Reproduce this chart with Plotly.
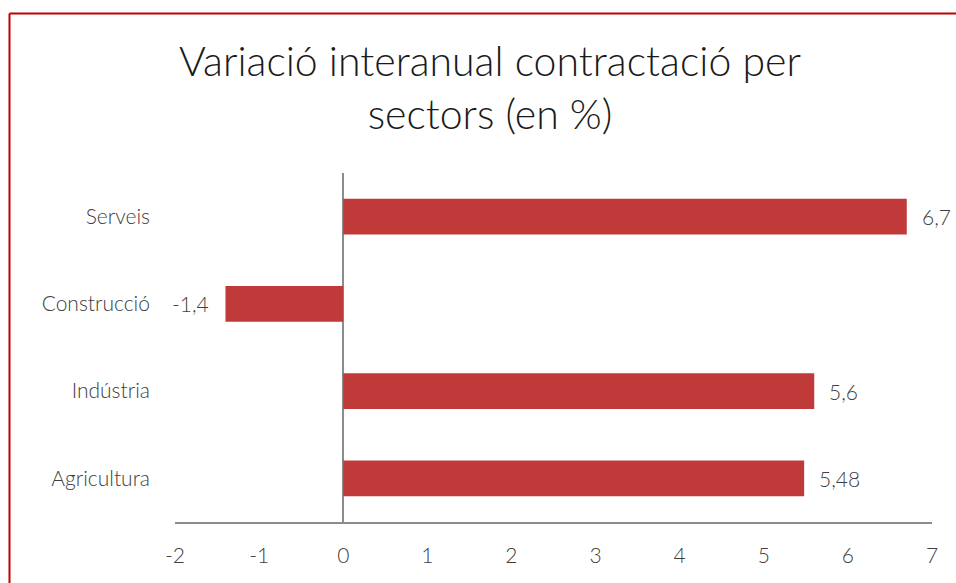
import plotly.graph_objects as go

sectors = ["Agricultura", "Indústria", "Construcció", "Serveis"]
values = [5.48, 5.6, -1.4, 6.7]
x_ticks = [-2, -1, 0, 1, 2, 3, 4, 5, 6, 7]

def fmt(v):
    return f"{v:g}".replace(".", ",")

FONT = "Lato"
TXT = "#404040"

fig = go.Figure()
fig.add_trace(go.Bar(
    x=values, y=sectors, orientation="h",
    marker=dict(color="#c03a3a", line=dict(width=0)),
    hoverinfo="skip",
))

for s, v in zip(sectors, values):
    fig.add_annotation(
        x=v, y=s, text=fmt(v), showarrow=False,
        xanchor="left" if v >= 0 else "right",
        xshift=13 if v >= 0 else -14,
        font=dict(family=FONT, size=21, color=TXT, weight=300),
    )

W, H = 956, 583
L, R, T, B = 175, 24, 173, 61
pw, ph = W - L - R, H - T - B

def px2x(px):
    return (px - L) / pw

def py2y(py):
    return (H - B - py) / ph

frame = dict(color="#c00000", width=2)
fig.add_shape(type="line", xref="paper", yref="paper",
              x0=px2x(9.5), x1=px2x(9.5), y0=py2y(13.5), y1=py2y(700), line=frame)
fig.add_shape(type="line", xref="paper", yref="paper",
              x0=px2x(9.5), x1=px2x(1200), y0=py2y(13.5), y1=py2y(13.5), line=frame)

fig.update_layout(
    width=W, height=H,
    margin=dict(l=L, r=R, t=T, b=B),
    paper_bgcolor="white", plot_bgcolor="white",
    showlegend=False,
    bargap=0.59,
    title=dict(
        text="Variació interanual contractació per<br>sectors (en %)",
        x=490 / W, xanchor="center",
        y=1 - 76 / H, yanchor="top",
        font=dict(family=FONT, size=41, color="#1a1a1a", weight=300),
    ),
    xaxis=dict(
        range=[-2, 7], tickvals=x_ticks, ticktext=[str(t) for t in x_ticks],
        showgrid=False, zeroline=True, zerolinecolor="#8c8c8c", zerolinewidth=1.5,
        showline=True, linecolor="#8c8c8c", linewidth=2,
        ticks="", ticklabelstandoff=14,
        tickfont=dict(family=FONT, size=21, color=TXT, weight=300),
    ),
    yaxis=dict(
        type="category", categoryorder="array", categoryarray=sectors,
        showgrid=False, showline=False, zeroline=False, ticks="",
        ticklabelstandoff=24,
        tickfont=dict(family=FONT, size=21, color=TXT, weight=300),
    ),
)

fig.write_html("out.html", config={"displayModeBar": False},
               post_script="document.body.style.margin='0';")
